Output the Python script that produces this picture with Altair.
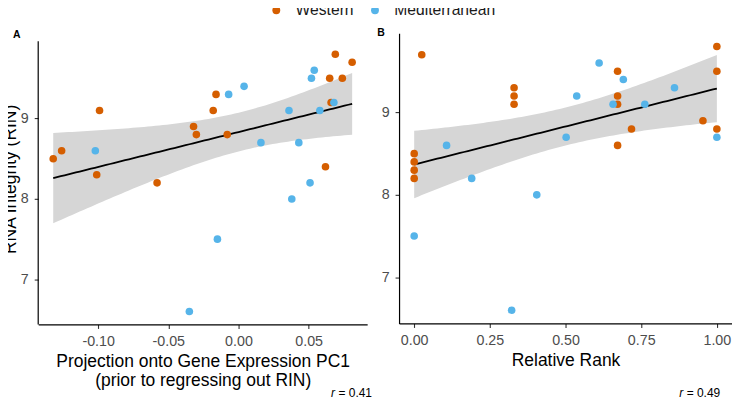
import altair as alt
import numpy as np
import pandas as pd

FONT = "Liberation Sans"
MINUS = "\u2212"

# ---------------- Panel A data ----------------
a_west_x = [-0.132, -0.126, -0.099, -0.101, -0.058, -0.032, -0.030, -0.018, -0.016, -0.008,
            0.062, 0.065, 0.069, 0.074, 0.081, 0.066]
a_west_y = [8.5, 8.6, 9.1, 8.3, 8.2, 8.9, 8.8, 9.1, 9.3, 8.8,
            8.4, 9.5, 9.8, 9.5, 9.7, 9.2]
a_med_x = [-0.102, -0.007, 0.004, 0.016, 0.036, 0.043, 0.052, 0.054, 0.058, 0.068,
           0.038, 0.051, -0.015, -0.035]
a_med_y = [8.6, 9.3, 9.4, 8.7, 9.1, 8.7, 9.5, 9.6, 9.1, 9.2,
           8.0, 8.2, 7.5, 6.6]

# ---------------- Panel B data ----------------
b_west_x = [0.025, 0.33, 0.33, 0.33, 0.0, 0.0, 0.0, 0.0, 0.672, 0.672, 0.672, 0.672,
            0.718, 0.954, 1.0, 1.0, 1.0]
b_west_y = [9.7, 9.3, 9.2, 9.1, 8.5, 8.4, 8.3, 8.2, 9.5, 9.2, 9.1, 8.6,
            8.8, 8.9, 9.8, 9.5, 8.8]
b_med_x = [0.107, 0.19, 0.405, 0.502, 0.537, 0.611, 0.657, 0.691, 0.762, 0.86, 1.0, 0.0, 0.322]
b_med_y = [8.6, 8.2, 8.0, 8.7, 9.2, 9.6, 9.1, 9.4, 9.1, 9.3, 8.7, 7.5, 6.6]

groups = ["Western", "Mediterranean"]
colors = ["#D55E00", "#56B4E9"]

a_xticks = [-0.10, -0.05, 0.00, 0.05]
b_xticks = [0.00, 0.25, 0.50, 0.75, 1.00]
yticks = [7, 8, 9]
r_labels = ["= 0.41", "= 0.49"]
y_lo, y_hi = 6.44, 9.96


def points_df(wx, wy, mx, my):
    return pd.DataFrame({
        "x": wx + mx,
        "y": wy + my,
        "group": ["Western"] * len(wx) + ["Mediterranean"] * len(mx),
    })


def band_df(df):
    x = df["x"].to_numpy(float)
    y = df["y"].to_numpy(float)
    n = len(x)
    slope, icpt = np.polyfit(x, y, 1)
    resid = y - (icpt + slope * x)
    s = np.sqrt(np.sum(resid ** 2) / (n - 2))
    sxx = np.sum((x - x.mean()) ** 2)
    grid = np.linspace(x.min(), x.max(), 80)
    fit = icpt + slope * grid
    se = s * np.sqrt(1.0 / n + (grid - x.mean()) ** 2 / sxx)
    t = 2.048
    return pd.DataFrame({"x": grid, "fit": fit, "lo": fit - t * se, "hi": fit + t * se})


color_scale = alt.Scale(domain=groups, range=colors)


def panel(df, xdomain, xticks, xtitle, ytitle, ydom, ydomain_line, width, height,
          label, lab_x, lab_y, rtext, r_x, r_y):
    bd = band_df(df)
    xs = alt.Scale(domain=xdomain, nice=False, zero=False)
    ys = alt.Scale(domain=ydom, nice=False, zero=False)
    xaxis = alt.Axis(values=xticks, title=xtitle,
                     labelExpr="replace(format(datum.value, '.2f'), '" + MINUS + "', '-')")
    yaxis = alt.Axis(values=yticks, title=ytitle, format="d", domain=ydomain_line)

    layers = []
    band = alt.Chart(bd).mark_area(color="#D6D6D6", opacity=1).encode(
        x=alt.X("x:Q", scale=xs, axis=xaxis),
        y=alt.Y("lo:Q", scale=ys, axis=yaxis),
        y2="hi:Q",
    )
    layers.append(band)
    if not ydomain_line:
        axis_line = alt.Chart(pd.DataFrame({"a": [y_lo], "b": [y_hi]})).mark_rule(
            color="black", strokeWidth=1.2
        ).encode(x=alt.value(0), y=alt.Y("a:Q", scale=ys, axis=yaxis), y2="b:Q")
        layers.append(axis_line)
    line = alt.Chart(bd).mark_line(color="black", strokeWidth=1.8).encode(
        x=alt.X("x:Q", scale=xs, axis=xaxis),
        y=alt.Y("fit:Q", scale=ys, axis=yaxis),
    )
    pts = alt.Chart(df).mark_circle(size=58, opacity=1).encode(
        x=alt.X("x:Q", scale=xs, axis=xaxis),
        y=alt.Y("y:Q", scale=ys, axis=yaxis),
        color=alt.Color("group:N", scale=color_scale, legend=alt.Legend(title=None)),
        order=alt.Order("order:Q"),
    ).transform_calculate(order="datum.group == 'Western' ? 0 : 1")
    lab = alt.Chart(pd.DataFrame({"t": [label]})).mark_text(
        font=FONT, fontSize=10.5, fontWeight="bold", color="black", align="center", baseline="middle"
    ).encode(text="t:N", x=alt.value(lab_x), y=alt.value(lab_y))
    r_it = alt.Chart(pd.DataFrame({"t": ["r"]})).mark_text(
        font=FONT, fontSize=12, fontStyle="italic", color="black", align="left", baseline="middle"
    ).encode(text="t:N", x=alt.value(r_x), y=alt.value(r_y))
    r_val = alt.Chart(pd.DataFrame({"t": [rtext]})).mark_text(
        font=FONT, fontSize=12, color="black", align="left", baseline="middle"
    ).encode(text="t:N", x=alt.value(r_x + 7.5), y=alt.value(r_y))
    layers += [line, pts, lab, r_it, r_val]
    return alt.layer(*layers).properties(width=width, height=height)


dfa = points_df(a_west_x, a_west_y, a_med_x, a_med_y)
dfb = points_df(b_west_x, b_west_y, b_med_x, b_med_y)

# left panel: visible data area 284px tall, starting 8px below the right panel
left_top = y_hi + 8 / (284 / (y_hi - y_lo))
left = panel(dfa, [-0.1427, 0.0917], a_xticks,
             ["Projection onto Gene Expression PC1", "(prior to regressing out RIN)"],
             "RNA Integrity (RIN)", [y_lo, left_top], False, 330, 292,
             "A", -21.5, 1.7, r_labels[0], 293.7, 361)
right = panel(dfb, [-0.05, 1.05], b_xticks, "Relative Rank", None, [y_lo, y_hi], True,
              334, 291, "B", -18.1, -0.8, r_labels[1], 281, 361)

chart = alt.hconcat(left, right, spacing=5).properties(
    padding={"left": -6.7, "top": -7.2, "right": 0, "bottom": 0}
).configure_view(stroke=None).configure_axis(
    grid=False,
    domainColor="black",
    domainWidth=1.2,
    tickColor="#333333",
    tickWidth=1.1,
    tickSize=4,
    labelPadding=6,
    labelFont=FONT,
    labelFontSize=14.3,
    labelColor="#4D4D4D",
    titleFont=FONT,
    titleFontSize=17.5,
    titleFontWeight="normal",
    titleColor="black",
    titleLineHeight=19,
    titlePadding=4,
).configure_axisY(
    labelPadding=6,
    titlePadding=0.5,
).configure_legend(
    orient="none",
    legendX=231,
    legendY=-31.2,
    direction="horizontal",
    labelFont=FONT,
    labelFontSize=15.7,
    labelColor="#1A1A1A",
    symbolType="circle",
    symbolSize=62,
    symbolOpacity=1,
    symbolStrokeWidth=0,
    labelOffset=11.5,
    columnPadding=13,
)

chart.save("out.html", embed_options={"renderer": "svg", "actions": False})
